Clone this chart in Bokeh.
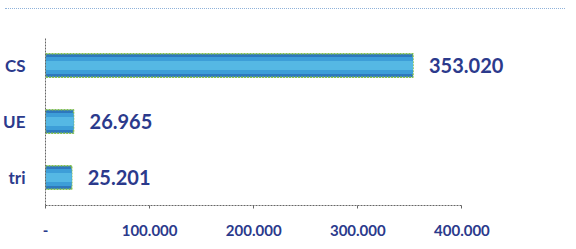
from bokeh.plotting import figure
from bokeh.models import ColumnDataSource, FactorRange, Div, FixedTicker
from bokeh.layouts import column
from bokeh.embed import file_html
from bokeh.resources import INLINE
from bokeh.core.properties import value

categories = ["CS", "UE", "tri"]
values = [353020, 26965, 25201]
tick_values = [0, 100000, 200000, 300000, 400000]
tick_labels = ["-", "100.000", "200.000", "300.000", "400.000"]

value_labels = [f"{v:,}".replace(",", ".") for v in values]
src = ColumnDataSource(dict(cat=categories, val=values, lab=value_labels))

NAVY = "#2b3a8c"

p = figure(width=560, height=229, output_backend="svg", toolbar_location=None,
           y_range=FactorRange(factors=list(reversed(categories))),
           x_range=(0, 487000),
           min_border_left=37, min_border_right=8, min_border_top=23, min_border_bottom=38)
p.outline_line_color = None
p.grid.visible = False

p.hbar(y="cat", right="val", left=0, height=0.42, source=src,
       fill_color="#2e78bd", line_color="#86c24a", line_width=1.5, line_dash="2 1")
p.hbar(y="cat", right="val", left=0, height=0.30, source=src,
       fill_color="#3d9ed8", line_color=None)
p.hbar(y="cat", right="val", left=0, height=0.16, source=src,
       fill_color="#55b8e4", line_color=None)

p.text(x="val", y="cat", text="lab", source=src, x_offset=16,
       text_font=value("Lato"), text_font_style="bold", text_font_size="20px",
       text_color=NAVY, text_baseline="middle", text_align="left")

xa = p.xaxis[0]
xa.ticker = FixedTicker(ticks=tick_values)
xa.major_label_overrides = {t: l for t, l in zip(tick_values, tick_labels)}
xa.bounds = (0, 400000)
xa.axis_line_color = "#666666"
xa.axis_line_dash = "2 1"
xa.major_tick_line_color = "#666666"
xa.major_tick_in = 0
xa.major_tick_out = 3
xa.minor_tick_line_color = None
xa.major_label_standoff = 16
xa.major_label_text_font = "Lato"
xa.major_label_text_font_style = "bold"
xa.major_label_text_font_size = "15px"
xa.major_label_text_color = NAVY

ya = p.yaxis[0]
ya.axis_line_color = "#666666"
ya.axis_line_dash = "2 1"
ya.major_tick_line_color = None
ya.minor_tick_line_color = None
ya.major_label_standoff = 14
ya.major_label_text_font = "Lato"
ya.major_label_text_font_style = "bold"
ya.major_label_text_font_size = "17px"
ya.major_label_text_color = NAVY

top = Div(text="", width=560, height=3,
          styles={"border-bottom": "1px dotted #8fb2da", "box-sizing": "content-box"})

layout = column(top, p, spacing=0)
open("out.html", "w").write(file_html(layout, INLINE))
